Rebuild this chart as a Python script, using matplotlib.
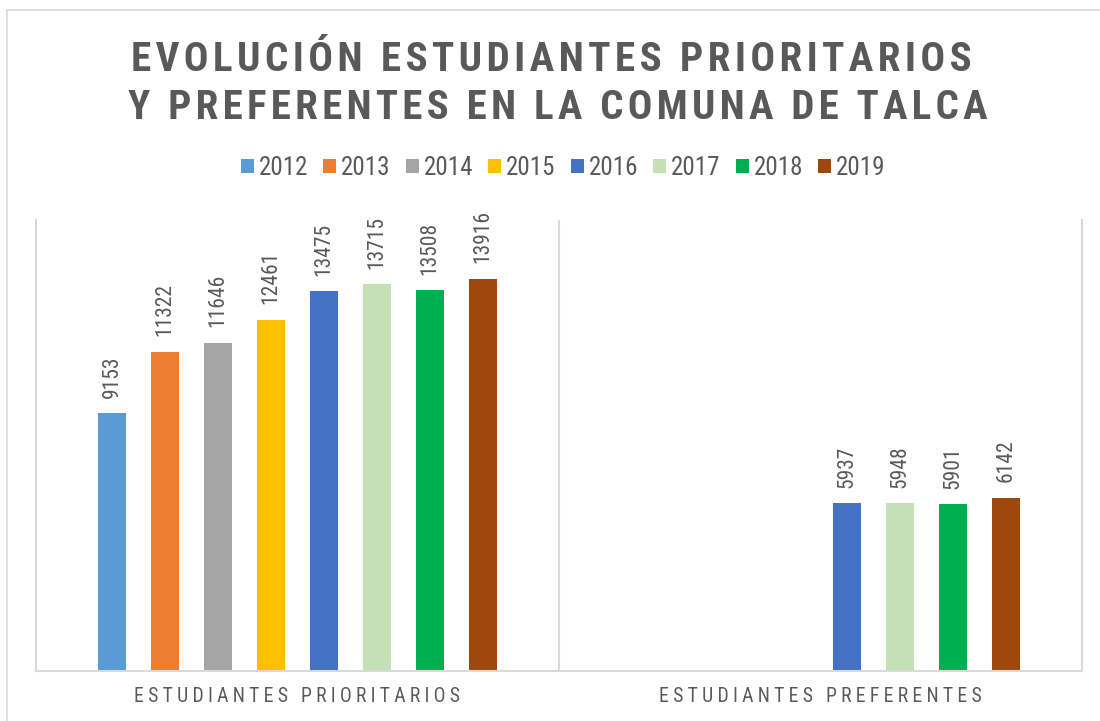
import matplotlib
matplotlib.use("Agg")
import matplotlib.pyplot as plt
from matplotlib import font_manager
from matplotlib.patches import Patch
from matplotlib.lines import Line2D
import numpy as np

# ---- data ----
categories = ["ESTUDIANTES PRIORITARIOS", "ESTUDIANTES PREFERENTES"]
years = ["2012", "2013", "2014", "2015", "2016", "2017", "2018", "2019"]
prioritarios = [9153, 11322, 11646, 12461, 13475, 13715, 13508, 13916]
preferentes = [None, None, None, None, 5937, 5948, 5901, 6142]
colors = ["#5B9BD5", "#ED7D31", "#A5A5A5", "#FFC000",
          "#4472C4", "#C5E0B4", "#00B050", "#9E480E"]
title_lines = ["EVOLUCIÓN ESTUDIANTES PRIORITARIOS",
               "Y PREFERENTES EN LA COMUNA DE TALCA"]

installed = {f.name for f in font_manager.fontManager.ttflist}
NARROW = None
for cand in ["Liberation Sans Narrow", "Roboto Condensed", "Arial Narrow"]:
    if cand in installed:
        NARROW = cand
        break
FONT = ([NARROW] if NARROW else []) + ["Liberation Sans", "DejaVu Sans"]
k = 1.0 if NARROW else 0.86   # size factor when only a regular-width font exists

TXT = "#595959"
GRID = "#D9D9D9"

def spaced(s, sep):
    return sep.join(s)

W, H = 1100, 721
fig = plt.figure(figsize=(W / 100, H / 100), dpi=100)
fig.patch.set_facecolor("white")
renderer = fig.canvas.get_renderer()

def fit_width(t, target):
    w = t.get_window_extent(renderer).width
    t.set_fontsize(t.get_fontsize() * target / w)

# outer chart border (left & top visible)
fig.add_artist(Line2D([7 / W, 7 / W], [0, 1 - 10 / H], transform=fig.transFigure,
                      color=GRID, lw=1.2))
fig.add_artist(Line2D([7 / W, 1], [1 - 10 / H, 1 - 10 / H], transform=fig.transFigure,
                      color=GRID, lw=1.2))

ax_l, ax_r, ax_t, ax_b = 36, 1082, 220, 670.5
ax = fig.add_axes([ax_l / W, 1 - ax_b / H, (ax_r - ax_l) / W, (ax_b - ax_t) / H])

n = len(years)
slot = 0.1013
bw = 0.0535
x = np.arange(len(categories))
for i, (yr, c) in enumerate(zip(years, colors)):
    vals = [prioritarios[i], preferentes[i]]
    vals = [np.nan if v is None else v for v in vals]
    off = (i - (n - 1) / 2) * slot
    bars = ax.bar(x + off, vals, width=bw, color=c, label=yr, zorder=2)
    labs = ["" if np.isnan(v) else f"{int(v)}" for v in vals]
    ax.bar_label(bars, labels=labs, rotation=90, padding=11, fontsize=15.5 * k,
                 color=TXT, family=FONT)

ax.set_xlim(-0.5, 1.5)
ax.set_ylim(0, 16000)
ax.set_yticks([])
ax.set_xticks(x)
sep_cat = "\u200a\u200a" if NARROW else "\u200a"
tls = ax.set_xticklabels([spaced(c, sep_cat) for c in categories], fontsize=16,
                         color=TXT, family=FONT)
ax.tick_params(axis="x", length=0, pad=12)
ax.axvline(0.5, color=GRID, lw=1.5, zorder=1)
ax.spines["top"].set_visible(False)
for s in ["left", "right", "bottom"]:
    ax.spines[s].set_color(GRID)
    ax.spines[s].set_linewidth(1.5)

fit_width(tls[0], 326)
tls[1].set_fontsize(tls[0].get_fontsize())

# title
sep_t = "\u200a"
t1 = fig.text(551.5 / W, 1 - 71 / H, spaced(title_lines[0], sep_t), ha="center",
              va="baseline", fontsize=30, fontweight="bold", color=TXT, family=FONT)
t2 = fig.text(557.5 / W, 1 - 119 / H, spaced(title_lines[1], sep_t), ha="center",
              va="baseline", fontsize=30, fontweight="bold", color=TXT, family=FONT)
fit_width(t1, 837)
fit_width(t2, 859)

# legend
lfs = 18 * k
em = lfs * 100 / 72
handles = [Patch(facecolor=c, edgecolor="none") for c in colors]
fig.legend(handles, years, loc="center", bbox_to_anchor=(563 / W, 1 - 168 / H),
           ncol=8, frameon=False, prop={"family": FONT, "size": lfs},
           labelcolor=TXT, handlelength=13 / em, handleheight=13 / em,
           handletextpad=5 / em, columnspacing=15 / em, borderaxespad=0)

fig.savefig("out.png", dpi=100, facecolor="white")
